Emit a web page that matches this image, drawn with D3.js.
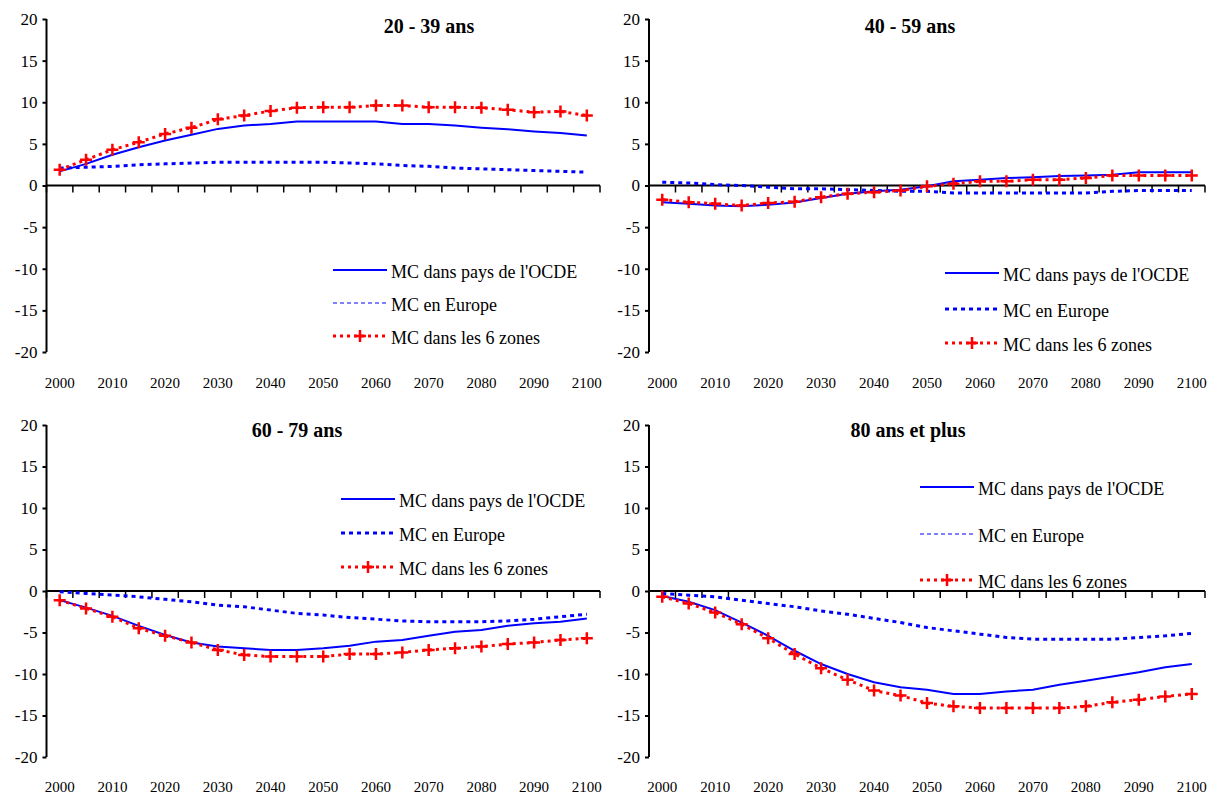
<!DOCTYPE html>
<html lang="fr">
<head>
<meta charset="UTF-8">
<title>MC par tranche d'âge</title>
<script src="https://d3js.org/d3.v7.min.js"></script>
<style>
  body { margin: 0; background: #fff; }
  svg, svg text { font-family: "Liberation Serif", "Times New Roman", serif; fill: #000; }
</style>
</head>
<body>
<svg id="chart" width="1207" height="796"></svg>
<script>
// years on the category axis
const years = [2000, 2005, 2010, 2015, 2020, 2025, 2030, 2035, 2040, 2045, 2050,
               2055, 2060, 2065, 2070, 2075, 2080, 2085, 2090, 2095, 2100];
const yearLabels = [2000, 2010, 2020, 2030, 2040, 2050, 2060, 2070, 2080, 2090, 2100];
const yTicks = [-20, -15, -10, -5, 0, 5, 10, 15, 20];
const seriesNames = ["MC dans pays de l'OCDE", "MC en Europe", "MC dans les 6 zones"];

// 20 - 39 ans
const ocde2039   = [1.7, 2.6, 3.7, 4.6, 5.4, 6.1, 6.8, 7.2, 7.4, 7.7, 7.7, 7.7, 7.7, 7.4, 7.4, 7.2, 6.95, 6.75, 6.5, 6.3, 6.0];
const europe2039 = [2.1, 2.2, 2.3, 2.5, 2.6, 2.7, 2.8, 2.8, 2.8, 2.8, 2.8, 2.7, 2.6, 2.4, 2.3, 2.1, 2.0, 1.9, 1.8, 1.7, 1.6];
const zones2039  = [1.9, 3.1, 4.3, 5.2, 6.2, 6.95, 7.95, 8.4, 8.95, 9.35, 9.4, 9.4, 9.6, 9.6, 9.4, 9.4, 9.35, 9.1, 8.8, 8.9, 8.4];

// 40 - 59 ans
const ocde4059   = [-2.0, -2.2, -2.4, -2.5, -2.3, -2.05, -1.5, -1.0, -0.7, -0.5, -0.1, 0.5, 0.7, 0.9, 1.0, 1.15, 1.2, 1.3, 1.6, 1.6, 1.6];
const europe4059 = [0.4, 0.3, 0.1, 0.0, -0.2, -0.4, -0.4, -0.5, -0.6, -0.7, -0.7, -0.9, -0.9, -0.9, -0.9, -0.9, -0.9, -0.7, -0.6, -0.6, -0.6];
const zones4059  = [-1.7, -2.0, -2.2, -2.4, -2.1, -1.95, -1.4, -1.0, -0.8, -0.6, -0.1, 0.2, 0.5, 0.5, 0.7, 0.7, 0.9, 1.2, 1.2, 1.2, 1.2];

// 60 - 79 ans
const ocde6079   = [-1.1, -2.0, -3.0, -4.2, -5.3, -6.2, -6.7, -6.9, -7.1, -7.1, -6.9, -6.6, -6.1, -5.9, -5.4, -4.9, -4.7, -4.2, -3.9, -3.7, -3.3];
const europe6079 = [-0.1, -0.3, -0.5, -0.7, -1.0, -1.3, -1.7, -1.9, -2.3, -2.7, -2.9, -3.2, -3.4, -3.6, -3.7, -3.7, -3.7, -3.6, -3.4, -3.1, -2.8];
const zones6079  = [-1.1, -2.1, -3.1, -4.5, -5.4, -6.2, -7.1, -7.7, -7.9, -7.9, -7.9, -7.6, -7.6, -7.4, -7.1, -6.9, -6.7, -6.4, -6.2, -5.9, -5.7];

// 80 ans et plus
const ocde80     = [-0.6, -1.3, -2.3, -3.8, -5.4, -7.2, -8.8, -10.0, -11.0, -11.6, -11.9, -12.4, -12.4, -12.1, -11.9, -11.3, -10.8, -10.3, -9.8, -9.2, -8.8];
const europe80   = [-0.3, -0.5, -0.7, -1.1, -1.5, -1.9, -2.4, -2.8, -3.3, -3.8, -4.4, -4.8, -5.2, -5.6, -5.8, -5.8, -5.8, -5.8, -5.6, -5.4, -5.1];
const zones80    = [-0.7, -1.5, -2.6, -4.0, -5.7, -7.6, -9.3, -10.7, -12.0, -12.6, -13.5, -13.9, -14.1, -14.1, -14.1, -14.1, -13.9, -13.4, -13.1, -12.7, -12.4];

// panel layout
const panels = [
  { title: "20 - 39 ans", ocde: ocde2039, europe: europe2039, zones: zones2039,
    x0: 46.5, x1: 600, yTop: 19, yBot: 352, yearY: 389, titleX: 429, titleY: 33,
    legX: 333, legY: [270, 303, 336], thinEurope: true },
  { title: "40 - 59 ans", ocde: ocde4059, europe: europe4059, zones: zones4059,
    x0: 649, x1: 1205, yTop: 19, yBot: 352, yearY: 389, titleX: 910, titleY: 33,
    legX: 945, legY: [273, 309, 343], thinEurope: false },
  { title: "60 - 79 ans", ocde: ocde6079, europe: europe6079, zones: zones6079,
    x0: 46.5, x1: 600, yTop: 425, yBot: 757, yearY: 793, titleX: 297, titleY: 437,
    legX: 341, legY: [499, 533, 567], thinEurope: false },
  { title: "80 ans et plus", ocde: ocde80, europe: europe80, zones: zones80,
    x0: 649, x1: 1205, yTop: 425, yBot: 757, yearY: 793, titleX: 908, titleY: 437,
    legX: 920, legY: [487, 534, 580], thinEurope: true }
];

const svg = d3.select('#chart');
const blue = '#0000ff';
const red = '#ff0000';
const plusPath = 'M-6,0H6M0,-6V6';
const serif = '"Liberation Serif", "Times New Roman", serif';

panels.forEach(p => {
  const g = svg.append('g');

  const x = d3.scaleBand().domain(years).range([p.x0, p.x1]).padding(0);
  const cx = d => x(d) + x.bandwidth() / 2;
  const y = d3.scaleLinear().domain([-20, 20]).range([p.yBot, p.yTop]);

  // y axis (plain hyphen for negatives, like the original)
  const yAxis = g.append('g')
    .attr('transform', `translate(${p.x0},0)`)
    .call(d3.axisLeft(y).tickValues(yTicks).tickSize(4).tickPadding(5)
      .tickFormat(d => String(d)));
  yAxis.attr('font-family', serif).attr('font-size', 17);
  yAxis.select('.domain').attr('stroke', '#000').attr('stroke-width', 2)
    .attr('d', `M0,${p.yTop}V${p.yBot}`);
  yAxis.selectAll('.tick line').attr('stroke-width', 2);

  // zero line with category ticks
  g.append('line')
    .attr('x1', p.x0).attr('x2', p.x1)
    .attr('y1', y(0)).attr('y2', y(0))
    .attr('stroke', '#000').attr('stroke-width', 2);
  g.selectAll('.ctick')
    .data(years.concat(['end']))
    .enter().append('line')
    .attr('x1', d => d === 'end' ? p.x1 : x(d))
    .attr('x2', d => d === 'end' ? p.x1 : x(d))
    .attr('y1', y(0)).attr('y2', y(0) + 7)
    .attr('stroke', '#000').attr('stroke-width', 1.5);

  // year labels
  const xAxis = g.append('g')
    .attr('transform', `translate(0,${p.yearY - 12})`)
    .call(d3.axisBottom(x).tickValues(yearLabels).tickSize(0).tickPadding(0));
  xAxis.attr('font-family', serif).attr('font-size', 15);
  xAxis.select('.domain').remove();

  // title
  g.append('text')
    .attr('x', p.titleX).attr('y', p.titleY)
    .attr('text-anchor', 'middle')
    .attr('font-family', serif)
    .style('font-size', '20px').style('font-weight', 'bold')
    .text(p.title);

  const line = d3.line().x((d, i) => cx(years[i])).y(d => y(d));

  // Europe
  g.append('path').datum(p.europe)
    .attr('d', line).attr('fill', 'none')
    .attr('stroke', blue).attr('stroke-width', 3)
    .attr('stroke-dasharray', '4,4');

  // OCDE
  g.append('path').datum(p.ocde)
    .attr('d', line).attr('fill', 'none')
    .attr('stroke', blue).attr('stroke-width', 2);

  // 6 zones
  g.append('path').datum(p.zones)
    .attr('d', line).attr('fill', 'none')
    .attr('stroke', red).attr('stroke-width', 3)
    .attr('stroke-dasharray', '3,4');
  g.selectAll('.plus')
    .data(p.zones)
    .enter().append('path')
    .attr('d', plusPath)
    .attr('transform', (d, i) => `translate(${cx(years[i])},${y(d)})`)
    .attr('stroke', red).attr('stroke-width', 2.5);

  // legend
  const legW = 54;
  const leg = g.append('g');
  leg.append('line')
    .attr('x1', p.legX).attr('x2', p.legX + legW)
    .attr('y1', p.legY[0]).attr('y2', p.legY[0])
    .attr('stroke', blue).attr('stroke-width', 2);
  leg.append('line')
    .attr('x1', p.legX).attr('x2', p.legX + legW)
    .attr('y1', p.legY[1]).attr('y2', p.legY[1])
    .attr('stroke', blue)
    .attr('stroke-width', p.thinEurope ? 1 : 3)
    .attr('stroke-dasharray', p.thinEurope ? '4,3' : '4,4');
  leg.append('line')
    .attr('x1', p.legX).attr('x2', p.legX + legW)
    .attr('y1', p.legY[2]).attr('y2', p.legY[2])
    .attr('stroke', red).attr('stroke-width', 3)
    .attr('stroke-dasharray', '3,4');
  leg.append('path')
    .attr('d', plusPath)
    .attr('transform', `translate(${p.legX + legW / 2},${p.legY[2]})`)
    .attr('stroke', red).attr('stroke-width', 2.5);
  leg.selectAll('text')
    .data(seriesNames)
    .enter().append('text')
    .attr('x', p.legX + legW + 4)
    .attr('y', (d, i) => p.legY[i] + 8)
    .attr('font-family', serif)
    .style('font-size', '18px')
    .text(d => d);
});
</script>
</body>
</html>
